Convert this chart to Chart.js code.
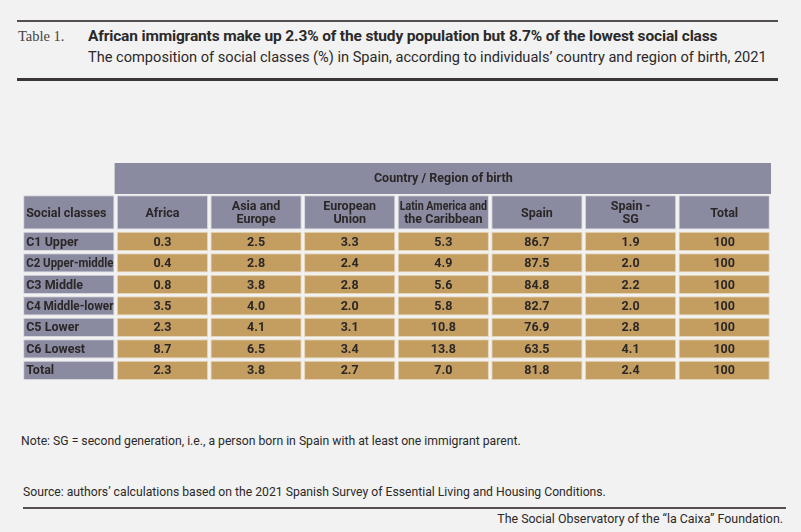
<!DOCTYPE html>
<html>
<head>
<meta charset="utf-8">
<script src="https://cdn.jsdelivr.net/npm/chart.js@4.4.1/dist/chart.umd.min.js"></script>
<style>
  body { margin: 0; background: #f2f2f2; width: 801px; height: 532px; position: relative; overflow: hidden; font-family: Roboto, sans-serif; color: #2b2929; }
  .rule { position: absolute; background: #4a4646; }
  .txt { position: absolute; white-space: nowrap; }
  #tableChart { position: absolute; left: 22px; top: 163px; }
</style>
</head>
<body>
<div class="rule" style="left:17px; top:20px; width:761px; height:2px; background:#55504f;"></div>
<div class="txt" style="left:18px; top:28px; font-family:'Liberation Serif',serif; font-size:14.5px; color:#444;">Table 1.</div>
<div class="txt" style="left:88px; top:27px; font-size:15.5px; font-weight:700; letter-spacing:-0.15px;">African immigrants make up 2.3% of the study population but 8.7% of the lowest social class</div>
<div class="txt" style="left:88px; top:48px; font-size:14.6px;">The composition of social classes (%) in Spain, according to individuals’ country and region of birth, 2021</div>
<div class="rule" style="left:17px; top:78px; width:761px; height:3px; background:#3a3636;"></div>

<canvas id="tableChart" width="749" height="217"></canvas>

<div class="txt" style="left:21px; top:434px; font-size:12.2px;">Note: SG = second generation, i.e., a person born in Spain with at least one immigrant parent.</div>
<div class="txt" style="left:23px; top:485px; font-size:12.2px;">Source: authors’ calculations based on the 2021 Spanish Survey of Essential Living and Housing Conditions.</div>
<div class="rule" style="left:23px; top:507px; width:763px; height:2px; background:#55504f;"></div>
<div class="txt" style="right:18px; top:511px; font-size:12.4px;">The Social Observatory of the “la Caixa” Foundation.</div>

<script>
// table content
const groupTitle = "Country / Region of birth";
const columns = ["Social classes", "Africa", "Asia and\nEurope", "European\nUnion", "Latin America and\nthe Caribbean", "Spain", "Spain -\nSG", "Total"];
const classes = ["C1 Upper", "C2 Upper-middle", "C3 Middle", "C4 Middle-lower", "C5 Lower", "C6 Lowest", "Total"];

const africa = [0.3, 0.4, 0.8, 3.5, 2.3, 8.7, 2.3];
const asiaEurope = [2.5, 2.8, 3.8, 4.0, 4.1, 6.5, 3.8];
const europeanUnion = [3.3, 2.4, 2.8, 2.0, 3.1, 3.4, 2.7];
const latinAmerica = [5.3, 4.9, 5.6, 5.8, 10.8, 13.8, 7.0];
const spain = [86.7, 87.5, 84.8, 82.7, 76.9, 63.5, 81.8];
const spainSG = [1.9, 2.0, 2.2, 2.0, 2.8, 4.1, 2.4];
const total = [100, 100, 100, 100, 100, 100, 100];

const series = [africa, asiaEurope, europeanUnion, latinAmerica, spain, spainSG, total];

const HEAD = "#8a8aa1";
const HEAD_EDGE = "#d6d6de";
const CELL = "#c49e61";
const CELL_EDGE = "#e6d6b8";
const INK = "#2b2727";

// row bands on the y axis (row units)
const groupBand = [0, 1.4];
const headBand = [1.5, 3.1];
const firstRow = 3.2;
const rowH = 0.9;

function fmt(v) {
    return v === 100 ? "100" : v.toFixed(1);
}

const datasets = [];

datasets.push({
    label: "group",
    data: columns.map((c, i) => (i === 0 ? null : groupBand)),
    backgroundColor: HEAD,
    borderWidth: 0,
    barPercentage: 1,
    inflateAmount: 1,
    texts: columns.map(() => ""),
});

datasets.push({
    label: "head",
    data: columns.map(() => headBand),
    backgroundColor: HEAD,
    borderColor: HEAD_EDGE,
    borderWidth: 1,
    borderSkipped: false,
    texts: columns,
    align: columns.map((c, i) => (i === 0 ? "left" : "center")),
});

classes.forEach(function (name, r) {
    const band = [firstRow + r, firstRow + r + rowH];
    datasets.push({
        label: name,
        data: columns.map(() => band),
        backgroundColor: columns.map((c, i) => (i === 0 ? HEAD : CELL)),
        borderColor: columns.map((c, i) => (i === 0 ? HEAD_EDGE : CELL_EDGE)),
        borderWidth: 1,
        borderSkipped: false,
        texts: [name].concat(series.map((s) => fmt(s[r]))),
        align: columns.map((c, i) => (i === 0 ? "left" : "center")),
    });
});

const cellText = {
    id: "cellText",
    afterDatasetsDraw(chart) {
        const ctx = chart.ctx;
        ctx.save();
        ctx.fillStyle = INK;
        ctx.textBaseline = "middle";
        ctx.font = "bold 12.5px Roboto";
        // spanning group title
        const x = chart.scales.x;
        const y = chart.scales.y;
        const left = x.getPixelForValue(1) - (x.getPixelForValue(2) - x.getPixelForValue(1)) / 2;
        ctx.textAlign = "center";
        ctx.fillText(groupTitle, (left + chart.chartArea.right) / 2, y.getPixelForValue((groupBand[0] + groupBand[1]) / 2) + 1);

        chart.data.datasets.forEach(function (ds, di) {
            if (di === 0) return;
            const meta = chart.getDatasetMeta(di);
            meta.data.forEach(function (bar, i) {
                const t = ds.texts[i];
                if (!t) return;
                const lines = t.split("\n");
                const cy = (bar.y + bar.base) / 2 + 1;
                const w = bar.width - 4;
                let tx = bar.x;
                ctx.textAlign = ds.align[i];
                if (ds.align[i] === "left") tx = bar.x - bar.width / 2 + 3;
                lines.forEach(function (ln, k) {
                    const ly = cy + (k - (lines.length - 1) / 2) * 13.5;
                    ctx.fillText(ln, tx, ly, w);
                });
            });
        });
        ctx.restore();
    },
};

new Chart(document.getElementById("tableChart"), {
    type: "bar",
    data: { labels: columns, datasets: datasets },
    options: {
        responsive: false,
        animation: false,
        layout: { padding: 0 },
        datasets: {
            bar: { grouped: false, categoryPercentage: 1, barPercentage: 0.975 },
        },
        plugins: { legend: { display: false }, tooltip: { enabled: false } },
        scales: {
            x: { type: "category", display: false },
            y: { type: "linear", min: 0, max: 10.1, reverse: true, display: false },
        },
    },
    plugins: [cellText],
});
</script>
</body>
</html>
